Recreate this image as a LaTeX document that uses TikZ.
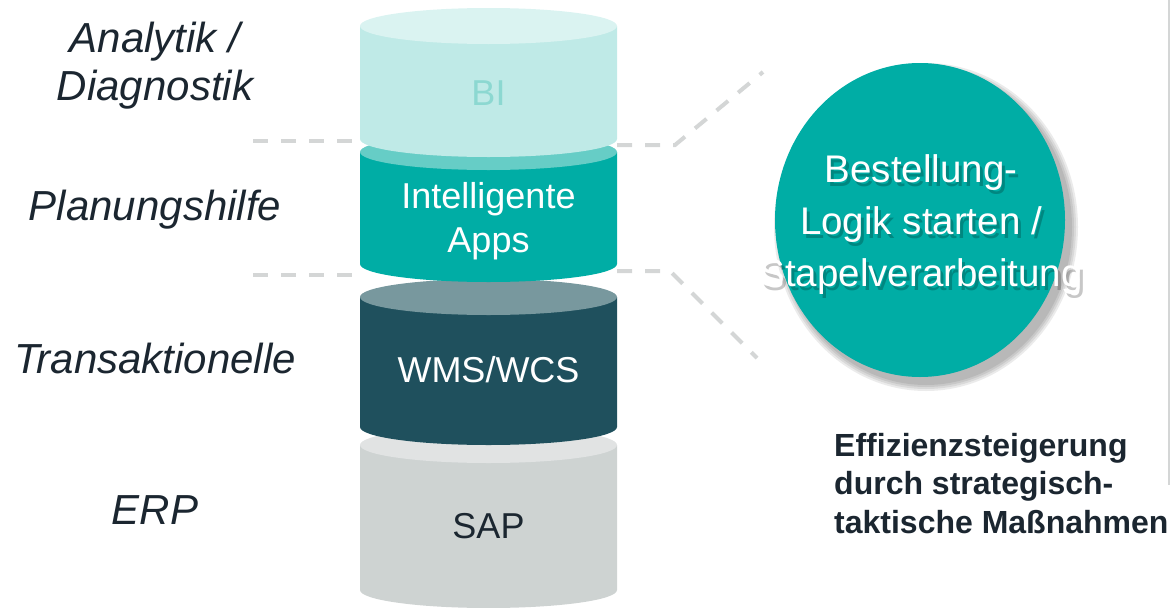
\documentclass[tikz,border=0pt]{standalone}
\usepackage{fontspec}
\setmainfont{Liberation Sans}
\usetikzlibrary{shapes.geometric}

\definecolor{inkDark}{HTML}{1B2630}
\definecolor{sepGray}{HTML}{D4D6D6}
\definecolor{biBody}{HTML}{BFEAE7}
\definecolor{biTop}{HTML}{DAF3F1}
\definecolor{biText}{HTML}{8CD8D1}
\definecolor{appsBody}{HTML}{00ADA5}
\definecolor{appsTop}{HTML}{66CDC6}
\definecolor{wmsBody}{HTML}{1F505D}
\definecolor{wmsTop}{HTML}{78989E}
\definecolor{sapBody}{HTML}{CED3D2}
\definecolor{sapTop}{HTML}{E1E3E3}

\tikzset{
  sep line/.style={draw=sepGray, line width=4pt, dash pattern=on 15pt off 13pt},
  layer label/.style={font=\fontsize{42}{48}\selectfont\itshape, text=inkDark, align=center, inner sep=0pt},
  disc text/.style={font=\fontsize{36}{44}\selectfont, align=center, inner sep=0pt},
  bubble text/.style={font=\fontsize{38.5}{52}\selectfont, align=center, inner sep=0pt},
}

% one layer of the stack: top y, bottom y, body colour, lid colour
\newcommand{\stackdisc}[4]{%
  \fill[#3] (360,#1) -- (360,#2) arc[start angle=180,end angle=360,x radius=128.5pt,y radius=18pt] -- (617,#1) -- cycle;
  \fill[#4] (488.5,#1) ellipse[x radius=128.5pt,y radius=18pt];
}

\begin{document}
\begin{tikzpicture}[x=1pt,y=-1pt]
    \useasboundingbox (0,0) rectangle (1171,608);

    % dashed separators
    \coordinate (ul1) at (253,141);
    \coordinate (ul2) at (360,141);
    \coordinate (ll1) at (253,275);
    \coordinate (ll2) at (360,275);
    \coordinate (ur1) at (617,145);
    \coordinate (ur2) at (675,145);
    \coordinate (ur3) at (763,72);
    \coordinate (lr1) at (617,271);
    \coordinate (lr2) at (670,271);
    \coordinate (lr3) at (757,358);
    \draw[sep line] (ul1) -- (ul2);
    \draw[sep line] (ll1) -- (ll2);
    \draw[sep line] (ur1) -- (ur2) -- (ur3);
    \draw[sep line] (lr1) -- (lr2) -- (lr3);

    % the stack, bottom layer first
    \stackdisc{445}{590}{sapBody}{sapTop}
    \stackdisc{297}{427}{wmsBody}{wmsTop}
    \stackdisc{152}{264}{appsBody}{appsTop}
    \stackdisc{26}{139}{biBody}{biTop}

    \node[disc text, text=biText, anchor=base] (bi) at (488.5,105) {BI};
    \node[disc text, text=white] (apps) at (488.5,221) {Intelligente\\Apps};
    \node[disc text, text=white, anchor=base] (wms) at (488.5,382) {WMS/WCS};
    \node[disc text, text=inkDark, anchor=base] (sap) at (488.5,538) {SAP};

    % layer names
    \node[layer label] (analytik) at (155,65.4) {Analytik /\\Diagnostik};
    \node[layer label, anchor=base] (planung) at (155,220) {Planungshilfe};
    \node[layer label, anchor=base] (trans) at (155,373) {Transaktionelle};
    \node[layer label, anchor=base] (erp) at (155,524) {ERP};

    % bubble with soft shadow
    \foreach \g in {7,5,3,1}
        \fill[black, opacity=0.08] (926,227) ellipse[x radius={(145+\g)*1pt}, y radius={(157+\g)*1pt}];
    \node[ellipse, fill=appsBody, minimum width=290pt, minimum height=314pt, inner sep=0pt] (bubble) at (920,220) {};
    \node[bubble text, text=black, opacity=0.22] (bubbleshadow) at (924,229) {Bestellung-\\Logik starten /\\Stapelverarbeitung};
    \node[bubble text, text=white] (bubbletext) at (921,225) {Bestellung-\\Logik starten /\\Stapelverarbeitung};

    \node[font=\fontsize{32}{38.5}\selectfont\bfseries, text=inkDark, align=left, inner sep=0pt, anchor=north west] (effizienz) at (834,433) {Effizienzsteigerung\\durch strategisch-\\taktische Maßnahmen};

    % frame edge on the right
    \draw[sepGray, line width=2pt] (1169,0) -- (1169,485);
\end{tikzpicture}
\end{document}
